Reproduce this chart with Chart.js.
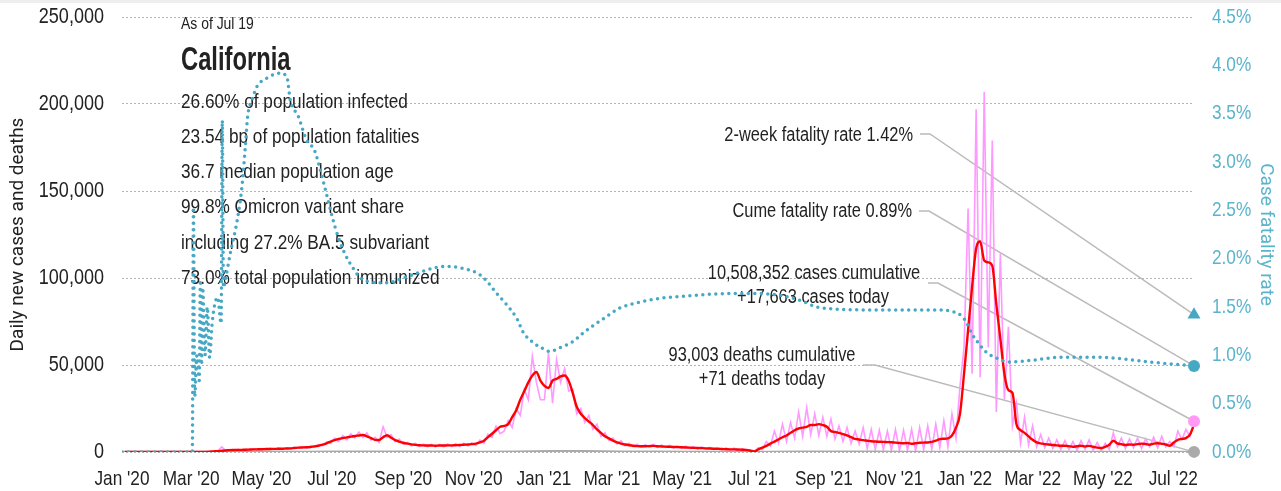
<!DOCTYPE html>
<html>
<head>
<meta charset="utf-8">
<script src="https://cdn.jsdelivr.net/npm/chart.js@4.4.1/dist/chart.umd.min.js"></script>
<style>
  html, body { margin: 0; padding: 0; background: #fff; }
  #strip { position: absolute; left: 0; top: 0; width: 1281px; height: 3px; background: #eeeeee; }
</style>
</head>
<body>
<div id="strip"></div>
<canvas id="chart" width="1281" height="491"></canvas>
<script>
(function(){
    'use strict'

    // no narrow face installed: Liberation Sans squeezed horizontally stands in for it
    var NARROW = "'Liberation Sans', Arial, sans-serif";
    var PLAIN = "Roboto, sans-serif";
    var SQUEEZE = 0.82;
    var TEAL = '#46a8c4';
    var TEAL_TEXT = '#5ab4cc';

    // days since Jan 1 2020; last day is Jul 19 2022
    var endDay = 930;
    var caseStep = 3.5;
    var deathStep = 31;

    var tickDates = ['2020-01-01','2020-03-01','2020-05-01','2020-07-01','2020-09-01','2020-11-01',
                     '2021-01-01','2021-03-01','2021-05-01','2021-07-01','2021-09-01','2021-11-01',
                     '2022-01-01','2022-03-01','2022-05-01','2022-07-01'];
    var tickLabels = ["Jan '20","Mar '20","May '20","Jul '20","Sep '20","Nov '20",
                      "Jan '21","Mar '21","May '21","Jul '21","Sep '21","Nov '21",
                      "Jan '22","Mar '22","May '22","Jul '22"];

    // daily new cases, every 3.5 days up to Jul 19 2022
    var dailyCases = [
        0,0,0,0,0,0,0,0,0, 0,0,0,0,0,0,0,0,
        0,20,40,90,180,400,600,2900,800, 1400,900,1500,1000,1600,1200,1800,1300,
        2000,1400,2100,1500,2200,1700,2400,1800,2700, 2200,3000,2300,3300,2800,4000,3600,5800,5000,
        8000,6000,9500,7000,10500,8200,11500,8500, 11000,7000,8500,5500,14500,8500,10000,6000,7500,
        4500,5500,3500,5000,3200,4500,3000,4400,3000, 4400,3000,4600,3100,4700,3200,5000,3400,
        5300,3800,6800,5200,10200,8500,14800,10500,12000, 18000,14000,25000,21000,36000,30000,55000,40000,30000,
        30000,57000,28000,53000,40000,48000,35000,36000,22000, 25000,17000,21000,13000,16000,9000,11000,6500,
        8000,4500,6500,3500,5000,3000,4500,2800,4200, 2800,4400,2600,4000,2500,3800,2300,3500,
        2100,3300,2000,3100,1800,2900,1600,2700,1400, 2500,1200,2300,1100,2200,1000,2000,700,1200,
        100,2500,1500,6000,3500,12000,5000,16000,6000, 17000,8000,23000,9000,25500,10000,22000,9500,20000,
        9000,19000,7500,15000,6000,14000,5000,12000,4500, 14000,2000,13000,1500,12500,1500,12000,1000,
        13000,800,12500,1000,13000,500,14000,1500, 15000,1500,16000,2500,18000,3000,22000,8000,38000,
        60000,140000,45000,197000,43000,207000,60000,179000,23000, 114000,30000,72000,15000,28000,5000,20000,4000,
        15000,3000,10000,2500,8000,2000,7000,1500,6500, 1500,6000,1000,6500,1500,7000,1000,5500,800,
        5000,1500,11000,3000,8000,2000,7500,2500, 8000,2000,7500,3000,8500,2500,9000,3000,6000,
        3000,12000,7000,13000,9000,17663
    ];

    // 7-day average of new cases, same dates
    var avgCases = [
        0,0,0,0,0,0,0,0,0, 0,0,0,0,0,0,0,0,
        10,20,40,80,200,350,500,700,900, 1100,1150,1200,1250,1300,1400,1500,1550,
        1600,1700,1750,1800,1850,1900,2000,2100,2300, 2500,2600,2700,2900,3200,3600,4200,5000,6000,
        6800,7500,8000,8400,8800,9200,9500,9800, 9000,8000,7000,6900,8500,9600,8200,6800,6000,
        5300,4800,4400,4100,3900,3800,3700,3700,3600, 3700,3700,3800,3800,3900,4000,4200,4300,
        4500,4800,5500,6500,8500,10500,12500,14500,15000, 16000,20000,24000,30000,35000,40000,44000,46000,41000,
        38000,36800,41000,42000,43500,44000,41000,34000,26000, 22000,19500,17500,15500,13000,11000,9000,7800,
        6500,5500,4800,4300,3900,3600,3400,3300,3300, 3400,3500,3300,3200,3100,3000,2900,2800,
        2700,2600,2500,2400,2300,2200,2100,2000,1900, 1800,1700,1600,1500,1500,1400,1300,1200,800,
        300,1500,2500,3500,4800,6000,7200,8500,9500, 11000,12500,13500,14000,14500,15500,15500,16000,15500,
        14500,12000,11500,11000,10300,9500,8500,7500,7200, 6800,6500,6200,6000,5900,5800,5700,5600,
        5400,5200,5000,5200,4700,5000,5300,5400, 5500,5800,6500,7400,7600,7800,9500,14000,22000,
        45000,70000,95000,117000,121000,110000,109000,107000,85000, 65000,45000,35500,34000,16000,12600,11000,9000,
        7000,5500,5000,4500,4300,4000,3800,3600,3600, 3400,3000,3300,3600,3200,3500,3000,2500,2300,
        3000,4200,6500,5000,4500,4000,4300,4200, 4500,4800,4600,4200,4800,5000,4700,4300,3600,
        5500,7000,7500,8000,10000,15500
    ];

    // daily deaths, every 31 days
    var dailyDeaths = [0,0,0,50,80,70,90,130,110,80,50,150,450,500,200,80,50,30,30,80,120,80,60,50,100,230,120,40,30,30,71];

    // case fatality rate (%)
    var cfrDays = [0,61,62,63,65,67,68,69,70,72, 74,76,78,80,83,86,87,88,90,94,
                   100,104,107,109,113,117,126,137,143,146, 153,160,167,172,178,185,193,200,207,215,
                   230,244,261,273,282,291,302,311,317,325, 334,343,348,357,365,371,380,391,400,409,
                   419,432,449,467,487,508,530,551,571,588, 603,617,646,675,704,721,729,733,737,744,
                   750,759,770,790,814,837,848,892,930];
    var cfrRates = [0,0,2.5,0.57,1.0,0.74,1.78,0.9,1.7,1.0, 1.5,0.98,1.3,1.5,1.6,1.33,3.43,1.7,1.8,2.06,
                    2.4,2.74,3.16,3.47,3.65,3.78,3.87,3.92,3.88,3.64, 3.47,3.23,3.12,2.92,2.64,2.32,2.06,1.91,1.80,1.76,
                    1.75,1.80,1.87,1.91,1.92,1.91,1.88,1.83,1.76,1.64, 1.52,1.37,1.24,1.13,1.07,1.04,1.08,1.14,1.23,1.31,
                    1.39,1.49,1.55,1.59,1.61,1.63,1.64,1.64,1.62,1.57, 1.50,1.48,1.47,1.47,1.47,1.45,1.40,1.33,1.23,1.11,
                    1.03,0.97,0.93,0.95,0.98,0.98,0.98,0.93,0.89];

    var twoWeekRate = 1.42;
    var cumeRate = 0.89;
    var casesCumulative = 10508352;
    var casesToday = 17663;
    var deathsCumulative = 93003;
    var deathsToday = 71;

    var statLines = [
        '26.60% of population infected',
        '23.54 bp of population fatalities',
        '36.7 median population age',
        '99.8% Omicron variant share',
        'including 27.2% BA.5 subvariant',
        '73.0% total population immunized'
    ];

    var day0 = Date.UTC(2020, 0, 1);
    var tickDays = tickDates.map(function(d){
        var p = d.split('-');
        return (Date.UTC(+p[0], +p[1] - 1, +p[2]) - day0) / 86400000;
    });

    function series(values, step){
        return values.map(function(v, i){
            return {x: endDay - step * (values.length - 1 - i), y: v};
        });
    }
    function fmt(n){ return n.toLocaleString('en-US'); }

    // text set in the narrow family is squeezed along its baseline
    var squeeze = SQUEEZE;
    var condense = {
        id: 'condense',
        beforeDraw: function(chart){
            var ctx = chart.ctx;
            if (ctx._condensed) return;
            ctx._condensed = true;
            var fill = ctx.fillText;
            ctx.fillText = function(text, x, y, maxWidth){
                if (this.font.indexOf('Liberation Sans') < 0) {
                    return maxWidth === undefined ? fill.call(this, text, x, y) : fill.call(this, text, x, y, maxWidth);
                }
                this.save();
                this.translate(x, y);
                this.scale(squeeze, 1);
                fill.call(this, text, 0, 0);
                this.restore();
            };
        }
    };

    var notes = {
        id: 'notes',
        beforeDatasetsDraw: function(chart){
            var ctx = chart.ctx;
            var ex = chart.scales.x.getPixelForValue(endDay);
            var yl = chart.scales.y, yr = chart.scales.y2;
            ctx.save();
            ctx.fillStyle = '#222';
            ctx.textBaseline = 'middle';
            ctx.textAlign = 'left';
            ctx.font = '17px ' + NARROW;
            ctx.fillText('As of Jul 19', 181, 24);
            ctx.font = 'bold 33px ' + NARROW;
            squeeze = 0.72;
            ctx.fillText('California', 181, 61);
            squeeze = SQUEEZE;
            ctx.font = '21px ' + NARROW;
            statLines.forEach(function(t, i){
                ctx.fillText(t, 181, 102 + i * 35.2);
            });

            ctx.font = '20px ' + NARROW;
            ctx.textAlign = 'right';
            ctx.fillText('2-week fatality rate ' + twoWeekRate.toFixed(2) + '%', 913, 135);
            ctx.fillText('Cume fatality rate ' + cumeRate.toFixed(2) + '%', 912, 211);
            ctx.textAlign = 'center';
            ctx.fillText(fmt(casesCumulative) + ' cases cumulative', 814, 273);
            ctx.fillText('+' + fmt(casesToday) + ' cases today', 813, 297);
            ctx.fillText(fmt(deathsCumulative) + ' deaths cumulative', 762, 355);
            ctx.fillText('+' + fmt(deathsToday) + ' deaths today', 762, 379);

            ctx.strokeStyle = '#bbbbbb';
            ctx.lineWidth = 1.5;
            var links = [
                [920, 134, 930, yr.getPixelForValue(twoWeekRate)],
                [919, 211, 929, yr.getPixelForValue(cumeRate)],
                [928, 283, 938, yl.getPixelForValue(casesToday)],
                [863, 365, 875, yl.getPixelForValue(deathsToday)]
            ];
            links.forEach(function(l){
                ctx.beginPath();
                ctx.moveTo(l[0], l[1]);
                ctx.lineTo(l[2], l[1]);
                ctx.lineTo(ex, l[3]);
                ctx.stroke();
            });
            ctx.restore();
        }
    };

    function marker(x, y, axis, style, r, color){
        return {
            data: [{x: x, y: y}], yAxisID: axis, showLine: false, clip: false,
            pointStyle: style, pointRadius: r, pointBackgroundColor: color,
            pointBorderWidth: 0, pointBorderColor: color
        };
    }

    // vertical axes: fixed width, no extra room above/below the plot
    function fitVertical(width){
        return function(scale){
            scale.width = width;
            scale.paddingTop = 0;
            scale.paddingBottom = 0;
        };
    }

    new Chart(document.getElementById('chart'), {
        type: 'line',
        data: {
            datasets: [
                marker(endDay, twoWeekRate, 'y2', 'triangle', 7.5, TEAL),
                marker(endDay, cumeRate, 'y2', 'circle', 6, TEAL),
                marker(endDay, casesToday, 'y', 'circle', 6, '#ff99f5'),
                marker(endDay, deathsToday, 'y', 'circle', 6, '#aaaaaa'),
                {
                    data: cfrDays.map(function(d, i){ return {x: d, y: cfrRates[i]}; }),
                    yAxisID: 'y2', borderColor: TEAL, borderWidth: 3.5,
                    borderDash: [0, 6.5], borderCapStyle: 'round',
                    cubicInterpolationMode: 'monotone', pointRadius: 0
                },
                {
                    data: series(avgCases, caseStep), yAxisID: 'y',
                    borderColor: '#ff0000', borderWidth: 2.4,
                    cubicInterpolationMode: 'monotone', pointRadius: 0
                },
                {
                    data: series(dailyDeaths, deathStep), yAxisID: 'y',
                    borderColor: '#aaaaaa', borderWidth: 2.5, pointRadius: 0
                },
                {
                    data: series(dailyCases, caseStep), yAxisID: 'y',
                    borderColor: '#ff99ff', borderWidth: 1.6, pointRadius: 0
                }
            ]
        },
        plugins: [condense, notes],
        options: {
            responsive: false,
            animation: false,
            devicePixelRatio: 1,
            layout: {padding: {top: 17}},
            plugins: {legend: {display: false}, tooltip: {enabled: false}},
            scales: {
                x: {
                    type: 'linear', min: 0, max: endDay,
                    grid: {display: false}, border: {display: false},
                    afterBuildTicks: function(scale){
                        scale.ticks = tickDays.map(function(v){ return {value: v}; });
                    },
                    afterFit: function(scale){ scale.height = 39; },
                    ticks: {
                        autoSkip: false, maxRotation: 0, padding: 7, color: '#222',
                        font: {family: NARROW, size: 21},
                        callback: function(v, i){ return tickLabels[i]; }
                    }
                },
                y: {
                    position: 'left', min: 0, max: 250000,
                    afterFit: fitVertical(122),
                    grid: {color: '#b5b5b5', lineWidth: 1, drawTicks: false},
                    border: {display: false, dash: [2, 2]},
                    ticks: {
                        stepSize: 50000, padding: 18, color: '#222',
                        font: {family: NARROW, size: 22},
                        callback: function(v){ return fmt(v); }
                    },
                    title: {
                        display: true, text: 'Daily new cases and deaths', color: '#222',
                        font: {family: PLAIN, size: 19},
                        padding: {top: 7, bottom: 0}
                    }
                },
                y2: {
                    position: 'right', min: 0, max: 4.5,
                    afterFit: fitVertical(87),
                    grid: {display: false, drawTicks: false}, border: {display: false},
                    ticks: {
                        stepSize: 0.5, padding: 18, color: TEAL_TEXT,
                        font: {family: NARROW, size: 21},
                        callback: function(v){ return v.toFixed(1) + '%'; }
                    },
                    title: {
                        display: true, text: 'Case fatality rate', color: TEAL_TEXT,
                        font: {family: PLAIN, size: 19},
                        padding: {top: 4, bottom: 0}
                    }
                }
            }
        }
    });
})();
</script>
</body>
</html>
